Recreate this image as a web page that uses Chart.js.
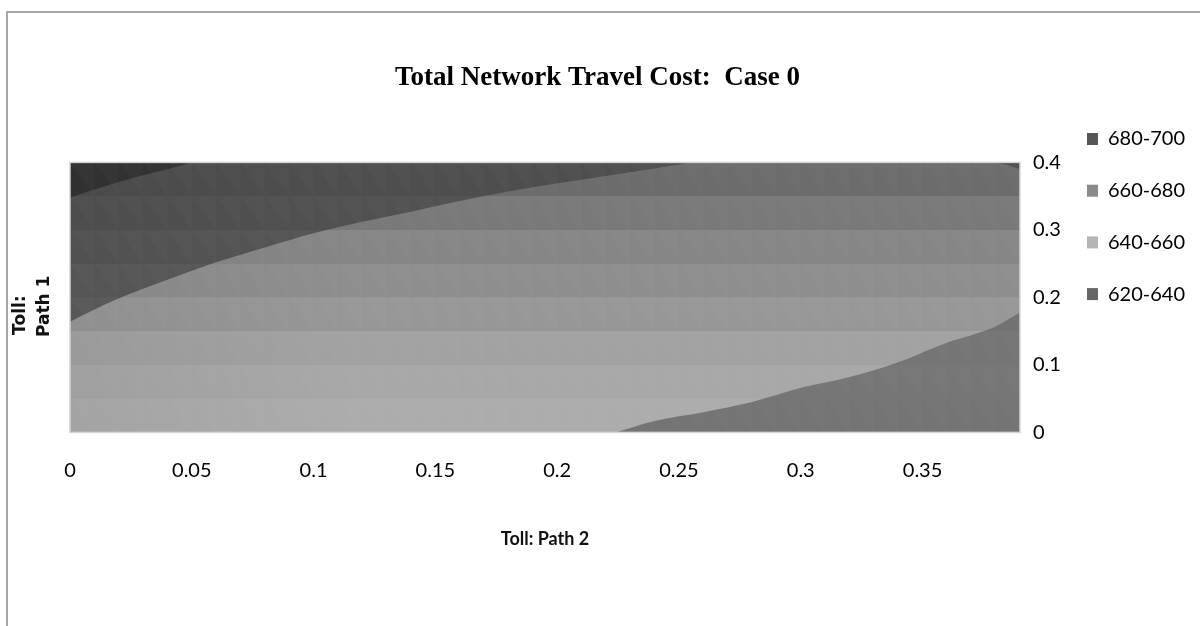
<!DOCTYPE html>
<html>
<head>
<meta charset="utf-8">
<title>Total Network Travel Cost: Case 0</title>
<script src="https://cdn.jsdelivr.net/npm/chart.js@4.4.1/dist/chart.umd.min.js"></script>
<style>
  html, body { margin: 0; padding: 0; background: #ffffff; }
  #wrap { position: relative; width: 1200px; height: 626px; }
</style>
</head>
<body>
<div id="wrap"><canvas id="chart" width="1200" height="626"></canvas></div>
<script>
// Surface grid: Toll Path 2 columns and Toll Path 1 rows
const path2Cols = [0, 0.01, 0.02, 0.03, 0.04, 0.05, 0.06, 0.07, 0.08, 0.09,
                   0.1, 0.11, 0.12, 0.13, 0.14, 0.15, 0.16, 0.17, 0.18, 0.19,
                   0.2, 0.21, 0.22, 0.23, 0.24, 0.25, 0.26, 0.27, 0.28, 0.29,
                   0.3, 0.31, 0.32, 0.33, 0.34, 0.35, 0.36, 0.37, 0.38, 0.39];
const path1Rows = [0, 0.05, 0.1, 0.15, 0.2, 0.25, 0.3, 0.35, 0.4];

// Axis tick labels
const path2Ticks = [0, 0.05, 0.1, 0.15, 0.2, 0.25, 0.3, 0.35];
const path1Ticks = [0, 0.1, 0.2, 0.3, 0.4];

// Cost bands shown in the legend
const bandLabels = ['680-700', '660-680', '640-660', '620-640'];
const legendColors = ['#555555', '#8a8a8a', '#b4b4b4', '#666666'];

// Shaded grey of each band, one value per surface row (top row first)
const shade680 = [51, 54, 57, 60, 63, 66, 69, 72];
const shade660 = [78, 81, 85, 89, 92, 96, 100, 104];
const shade640 = [108, 121, 134, 142, 151, 162, 168, 172];
const shade620 = [100, 104, 108, 110, 114, 117, 118, 116];

// Contour 680: Toll Path 2 -> Toll Path 1
const c680Path2 = [0, 0.01, 0.02, 0.03, 0.04, 0.0497];
const c680Path1 = [0.348, 0.360, 0.371, 0.381, 0.390, 0.400];

// Contour 660 (upper-left boundary)
const c660Path2 = [0, 0.0185, 0.04, 0.06, 0.08, 0.10, 0.12, 0.14, 0.16, 0.18, 0.20, 0.22, 0.24, 0.255];
const c660Path1 = [0.164, 0.196, 0.226, 0.252, 0.274, 0.295, 0.312, 0.327, 0.343, 0.357, 0.369, 0.380, 0.391, 0.400];

// Contour 660 (top-right corner)
const c660bPath2 = [0.378, 0.384, 0.39];
const c660bPath1 = [0.400, 0.397, 0.390];

// Contour 640 (lower-right boundary)
const c640Path2 = [0.224, 0.24, 0.26, 0.28, 0.30, 0.32, 0.34, 0.36, 0.38, 0.39];
const c640Path1 = [0, 0.017, 0.030, 0.045, 0.066, 0.082, 0.104, 0.133, 0.157, 0.178];

const pts = (xs, ys) => xs.map((x, i) => ({ x, y: ys[i] }));

// Stepped vertical gradient: one flat grey per surface row
function rowShade(shades) {
  return (ctx) => {
    const chart = ctx.chart;
    const area = chart.chartArea;
    if (!area) return 'rgb(128,128,128)';
    const ys = chart.scales.y;
    const h = area.bottom - area.top;
    const g = chart.ctx.createLinearGradient(0, area.top, 0, area.bottom);
    const n = path1Rows.length - 1;
    const clamp = (v) => Math.min(1, Math.max(0, v));
    for (let r = 0; r < n; r++) {
      const p0 = clamp((ys.getPixelForValue(path1Rows[n - r]) - area.top) / h);
      const p1 = clamp((ys.getPixelForValue(path1Rows[n - r - 1]) - area.top) / h);
      const v = shades[r];
      const c = `rgb(${v},${v},${v})`;
      g.addColorStop(p0, c);
      g.addColorStop(p1, c);
    }
    return g;
  };
}

const area = (label, data, shades, fill) => ({
  label, data, fill,
  backgroundColor: rowShade(shades),
  borderWidth: 0,
  pointRadius: 0,
  tension: 0.25,
  cubicInterpolationMode: 'monotone'
});

// Outer chart frame, facet texture of the surface grid and plot outline
const framePlugin = {
  id: 'frame',
  beforeDraw(chart) {
    const c = chart.ctx;
    c.save();
    c.strokeStyle = '#a6a6a6';
    c.lineWidth = 2;
    c.beginPath();
    c.moveTo(7, chart.height);
    c.lineTo(7, 12);
    c.lineTo(chart.width, 12);
    c.stroke();
    c.restore();
  },
  afterDatasetsDraw(chart) {
    const a = chart.chartArea;
    const c = chart.ctx;
    const xs = chart.scales.x;
    const ys = chart.scales.y;
    c.save();
    c.beginPath();
    c.rect(a.left, a.top, a.right - a.left, a.bottom - a.top);
    c.clip();
    // steeper left edge of the surface catches less light
    const sideShade = c.createLinearGradient(xs.getPixelForValue(0), 0, xs.getPixelForValue(0.12), 0);
    sideShade.addColorStop(0, 'rgba(0,0,0,0.05)');
    sideShade.addColorStop(1, 'rgba(0,0,0,0)');
    c.fillStyle = sideShade;
    c.fillRect(a.left, a.top, a.right - a.left, a.bottom - a.top);
    // triangular facets of each grid cell
    c.fillStyle = 'rgba(255,255,255,0.018)';
    for (let j = 0; j < path1Rows.length - 1; j++) {
      const yTop = ys.getPixelForValue(path1Rows[j + 1]);
      const yBot = ys.getPixelForValue(path1Rows[j]);
      for (let i = 0; i < path2Cols.length - 1; i++) {
        const xL = xs.getPixelForValue(path2Cols[i]);
        const xR = xs.getPixelForValue(path2Cols[i + 1]);
        c.beginPath();
        c.moveTo(xL, yTop);
        c.lineTo(xR, yTop);
        c.lineTo(xR, yBot);
        c.closePath();
        c.fill();
      }
    }
    c.restore();
    c.save();
    c.strokeStyle = '#d4d4d4';
    c.lineWidth = 1.5;
    c.strokeRect(a.left, a.top, a.right - a.left, a.bottom - a.top);
    c.restore();
  }
};

const tickFont = { family: 'Lato', size: 20 };

new Chart(document.getElementById('chart'), {
  type: 'line',
  data: {
    datasets: [
      area('680-700', pts(c680Path2, c680Path1), shade680, 'end'),
      area('660-680', pts(c660Path2, c660Path1), shade660, 'end'),
      area('660-680', pts(c660bPath2, c660bPath1), shade660, 'end'),
      area('620-640', pts(c640Path2, c640Path1), shade620, 'start'),
      area('640-660', pts([0, 0.39], [0.4, 0.4]), shade640, 'start')
    ]
  },
  options: {
    responsive: false,
    animation: false,
    layout: { padding: { left: 0, right: 5, top: 0, bottom: 76 } },
    plugins: {
      tooltip: { enabled: false },
      title: {
        display: true,
        text: 'Total Network Travel Cost:  Case 0',
        color: '#000000',
        font: { family: 'Liberation Serif', size: 27, weight: 'bold' },
        padding: { top: 62, bottom: 68 }
      },
      legend: {
        position: 'right',
        align: 'start',
        title: { display: true, text: ' ', font: { size: 12 }, padding: { top: 92.6, bottom: 0 } },
        labels: {
          boxWidth: 11,
          boxHeight: 12,
          padding: 22,
          color: '#000000',
          font: { family: 'Lato', size: 20, lineHeight: 1.485 },
          generateLabels: () => bandLabels.map((t, i) => ({
            text: [t],
            fillStyle: legendColors[i],
            strokeStyle: legendColors[i],
            fontColor: '#000000',
            lineWidth: 0,
            hidden: false,
            index: i
          }))
        }
      }
    },
    scales: {
      x: {
        type: 'linear',
        min: 0,
        max: 0.39,
        grid: { display: false, drawTicks: false },
        border: { display: false },
        afterBuildTicks: (s) => { s.ticks = path2Ticks.map((v) => ({ value: v })); },
        ticks: {
          padding: 26,
          color: '#000000',
          font: tickFont,
          maxRotation: 0,
          autoSkip: false,
          callback: (v) => String(v)
        },
        title: {
          display: true,
          text: 'Toll: Path 2',
          color: '#111111',
          font: { family: 'Lato', size: 18, weight: 'bold' },
          padding: { top: 20, bottom: 0 }
        }
      },
      y: {
        type: 'linear',
        position: 'right',
        min: 0,
        max: 0.4,
        grid: { display: false, drawTicks: false },
        border: { display: false },
        afterBuildTicks: (s) => { s.ticks = path1Ticks.map((v) => ({ value: v })); },
        afterFit: (s) => { s.width = 45; },
        ticks: {
          padding: 13,
          color: '#000000',
          font: tickFont,
          autoSkip: false,
          callback: (v) => String(v)
        }
      },
      yl: {
        type: 'linear',
        position: 'left',
        min: 0,
        max: 1,
        grid: { display: false, drawTicks: false },
        border: { display: false },
        ticks: { display: false },
        afterFit: (s) => { s.width = 70; },
        title: {
          display: true,
          text: ['Toll:      ', 'Path 1   '],
          color: '#111111',
          font: { family: 'DejaVu Sans', size: 17, weight: 'bold', lineHeight: 1.45 },
          padding: { top: 8, bottom: 0 }
        }
      }
    }
  },
  plugins: [framePlugin]
});
</script>
</body>
</html>
